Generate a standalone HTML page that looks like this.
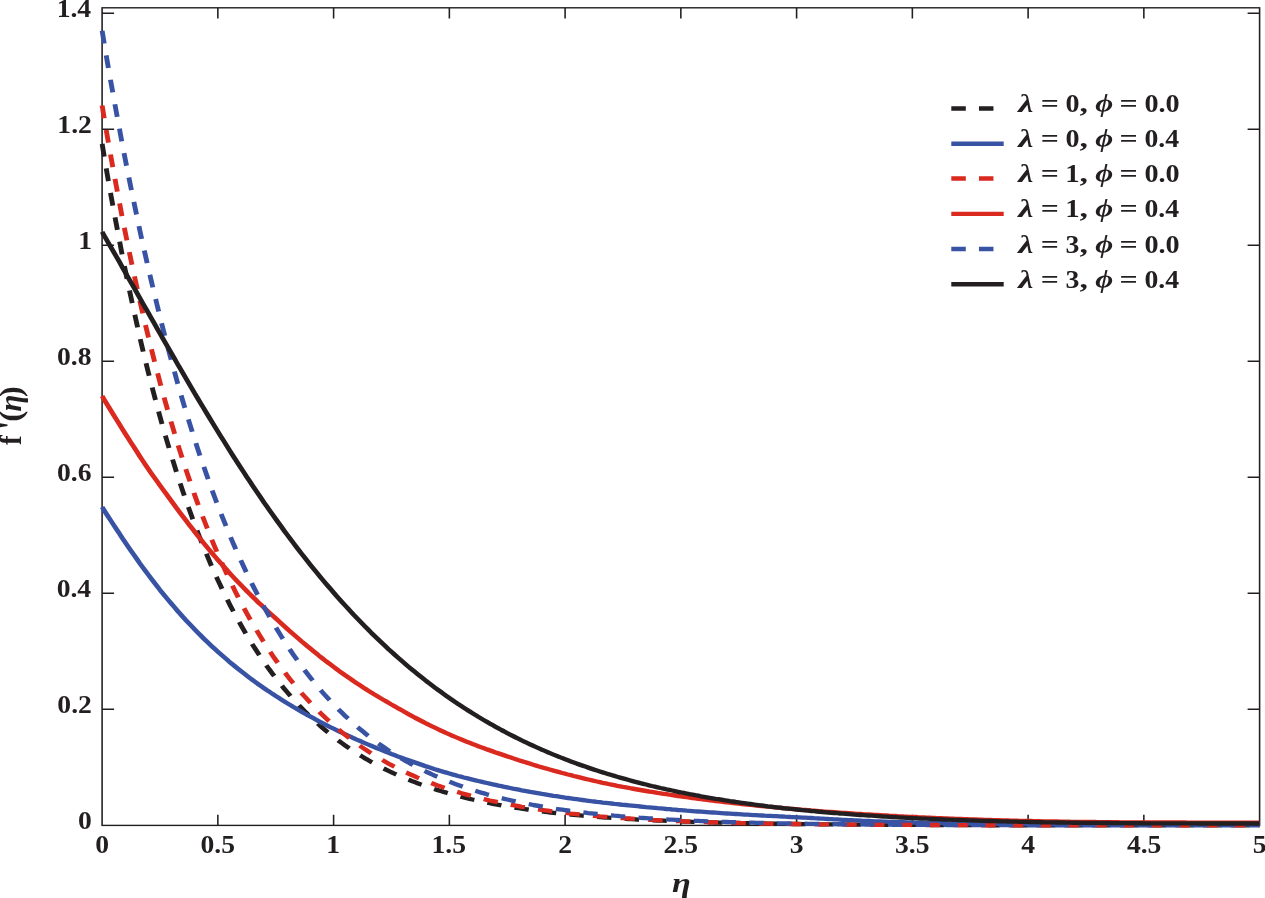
<!DOCTYPE html>
<html lang="en"><head><meta charset="utf-8"><title>f'(η) versus η</title>
<style>
html,body{margin:0;padding:0;background:#fff;}
body{width:1265px;height:898px;overflow:hidden;}
svg{display:block;}
text{font-family:"Liberation Serif","DejaVu Serif",serif;font-weight:bold;fill:#231f20;font-kerning:none;}
.it{font-style:italic;}
.ax{stroke:#231f20;stroke-width:1.4;fill:none;}
.cv{fill:none;stroke-width:4.35;stroke-linejoin:round;}
</style></head><body>
<svg width="1265" height="898" viewBox="0 0 1265 898">
<rect width="1265" height="898" fill="#fff"/>
<g transform="scale(1.12 1)">
<rect class="ax" x="91.16" y="7.8" width="1033.48" height="817.6"/>
<path class="ax" d="M194.51 825.4 v-10.6 M194.51 7.8 v10.6 M297.86 825.4 v-10.6 M297.86 7.8 v10.6 M401.21 825.4 v-10.6 M401.21 7.8 v10.6 M504.55 825.4 v-10.6 M504.55 7.8 v10.6 M607.90 825.4 v-10.6 M607.90 7.8 v10.6 M711.25 825.4 v-10.6 M711.25 7.8 v10.6 M814.60 825.4 v-10.6 M814.60 7.8 v10.6 M917.95 825.4 v-10.6 M917.95 7.8 v10.6 M1021.29 825.4 v-10.6 M1021.29 7.8 v10.6 M91.16 709.3 h10.7 M1124.64 709.3 h-10.7 M91.16 593.3 h10.7 M1124.64 593.3 h-10.7 M91.16 477.2 h10.7 M1124.64 477.2 h-10.7 M91.16 361.2 h10.7 M1124.64 361.2 h-10.7 M91.16 245.2 h10.7 M1124.64 245.2 h-10.7 M91.16 129.2 h10.7 M1124.64 129.2 h-10.7 M91.16 13.2 h10.7 M1124.64 13.2 h-10.7"/>
<path class="cv" stroke="#231f20" stroke-dasharray="12.85 11.92" d="M91.2 143.9 L93.7 161.1 L96.3 177.9 L98.9 194.3 L101.5 210.2 L104.1 225.7 L106.7 240.9 L109.2 255.6 L111.8 270.0 L114.4 284.0 L117.0 297.7 L119.6 311.0 L122.2 324.0 L124.7 336.6 L127.3 349.0 L129.9 361.0 L132.5 372.7 L135.1 384.1 L137.7 395.2 L140.3 406.1 L142.8 416.6 L145.4 427.0 L148.0 437.0 L150.6 446.8 L153.2 456.3 L155.8 465.6 L158.3 474.7 L160.9 483.5 L163.5 492.1 L166.1 500.5 L168.7 508.7 L171.3 516.7 L173.8 524.5 L176.4 532.0 L179.0 539.4 L181.6 546.6 L184.2 553.6 L186.8 560.5 L189.3 567.2 L191.9 573.7 L194.5 580.0 L197.1 586.2 L199.7 592.2 L202.3 598.1 L204.8 603.8 L207.4 609.4 L210.0 614.8 L212.6 620.1 L215.2 625.3 L217.8 630.3 L220.3 635.2 L222.9 640.0 L225.5 644.7 L228.1 649.2 L230.7 653.6 L233.3 658.0 L235.8 662.2 L238.4 666.3 L241.0 670.3 L243.6 674.2 L246.2 678.0 L248.8 681.7 L251.4 685.3 L253.9 688.9 L256.5 692.3 L259.1 695.6 L261.7 698.9 L264.3 702.1 L266.9 705.2 L269.4 708.2 L272.0 711.2 L274.6 714.0 L277.2 716.8 L279.8 719.6 L282.4 722.2 L284.9 724.8 L287.5 727.4 L290.1 729.8 L292.7 732.3 L295.3 734.6 L297.9 736.9 L300.4 739.1 L303.0 741.3 L305.6 743.4 L308.2 745.5 L310.8 747.5 L313.4 749.5 L315.9 751.4 L318.5 753.2 L321.1 755.1 L323.7 756.8 L326.3 758.6 L328.9 760.2 L331.4 761.9 L334.0 763.5 L336.6 765.0 L339.2 766.6 L341.8 768.1 L344.4 769.5 L346.9 770.9 L349.5 772.3 L352.1 773.6 L354.7 774.9 L357.3 776.2 L359.9 777.5 L362.4 778.7 L365.0 779.8 L367.6 781.0 L370.2 782.1 L372.8 783.2 L375.4 784.3 L378.0 785.3 L380.5 786.3 L383.1 787.3 L385.7 788.3 L388.3 789.2 L390.9 790.1 L393.5 791.0 L396.0 791.9 L398.6 792.7 L401.2 793.6 L403.8 794.4 L406.4 795.2 L409.0 795.9 L411.5 796.7 L414.1 797.4 L416.7 798.1 L419.3 798.8 L421.9 799.5 L424.5 800.1 L427.0 800.8 L429.6 801.4 L432.2 802.0 L434.8 802.6 L437.4 803.2 L440.0 803.8 L442.5 804.3 L445.1 804.8 L447.7 805.4 L450.3 805.9 L452.9 806.4 L455.5 806.9 L458.0 807.3 L460.6 807.8 L463.2 808.2 L465.8 808.7 L468.4 809.1 L471.0 809.5 L473.5 809.9 L476.1 810.3 L478.7 810.7 L481.3 811.1 L483.9 811.4 L486.5 811.8 L489.1 812.1 L491.6 812.5 L494.2 812.8 L496.8 813.1 L499.4 813.4 L502.0 813.8 L504.6 814.0 L507.1 814.3 L509.7 814.6 L512.3 814.9 L514.9 815.2 L517.5 815.4 L520.1 815.7 L522.6 815.9 L525.2 816.2 L527.8 816.4 L530.4 816.6 L533.0 816.9 L535.6 817.1 L538.1 817.3 L540.7 817.5 L543.3 817.7 L545.9 817.9 L548.5 818.1 L551.1 818.3 L553.6 818.5 L556.2 818.7 L558.8 818.8 L561.4 819.0 L564.0 819.2 L566.6 819.3 L569.1 819.5 L571.7 819.6 L574.3 819.8 L576.9 819.9 L579.5 820.1 L582.1 820.2 L584.6 820.3 L587.2 820.5 L589.8 820.6 L592.4 820.7 L595.0 820.8 L597.6 821.0 L600.2 821.1 L602.7 821.2 L605.3 821.3 L607.9 821.4 L610.5 821.5 L613.1 821.6 L615.7 821.7 L618.2 821.8 L620.8 821.9 L623.4 822.0 L626.0 822.1 L628.6 822.2 L631.2 822.2 L633.7 822.3 L636.3 822.4 L638.9 822.5 L641.5 822.6 L644.1 822.6 L646.7 822.7 L649.2 822.8 L651.8 822.8 L654.4 822.9 L657.0 823.0 L659.6 823.0 L662.2 823.1 L664.7 823.2 L667.3 823.2 L669.9 823.3 L672.5 823.3 L675.1 823.4 L677.7 823.4 L680.2 823.5 L682.8 823.5 L685.4 823.6 L688.0 823.6 L690.6 823.7 L693.2 823.7 L695.7 823.8 L698.3 823.8 L700.9 823.8 L703.5 823.9 L706.1 823.9 L708.7 824.0 L711.2 824.0 L713.8 824.0 L716.4 824.1 L719.0 824.1 L721.6 824.1 L724.2 824.2 L726.8 824.2 L729.3 824.2 L731.9 824.3 L734.5 824.3 L737.1 824.3 L739.7 824.4 L742.3 824.4 L744.8 824.4 L747.4 824.4 L750.0 824.5 L752.6 824.5 L755.2 824.5 L757.8 824.5 L760.3 824.6 L762.9 824.6 L765.5 824.6 L768.1 824.6 L770.7 824.6 L773.3 824.7 L775.8 824.7 L778.4 824.7 L781.0 824.7 L783.6 824.7 L786.2 824.7 L788.8 824.8 L791.3 824.8 L793.9 824.8 L796.5 824.8 L799.1 824.8 L801.7 824.8 L804.3 824.9 L806.8 824.9 L809.4 824.9 L812.0 824.9 L814.6 824.9 L817.2 824.9 L819.8 824.9 L822.3 824.9 L824.9 825.0 L827.5 825.0 L830.1 825.0 L832.7 825.0 L835.3 825.0 L837.9 825.0 L840.4 825.0 L843.0 825.0 L845.6 825.0 L848.2 825.1 L850.8 825.1 L853.4 825.1 L855.9 825.1 L858.5 825.1 L861.1 825.1 L863.7 825.1 L866.3 825.1 L868.9 825.1 L871.4 825.1 L874.0 825.1 L876.6 825.1 L879.2 825.1 L881.8 825.2 L884.4 825.2 L886.9 825.2 L889.5 825.2 L892.1 825.2 L894.7 825.2 L897.3 825.2 L899.9 825.2 L902.4 825.2 L905.0 825.2 L907.6 825.2 L910.2 825.2 L912.8 825.2 L915.4 825.2 L917.9 825.2 L920.5 825.2 L923.1 825.2 L925.7 825.2 L928.3 825.2 L930.9 825.3 L933.4 825.3 L936.0 825.3 L938.6 825.3 L941.2 825.3 L943.8 825.3 L946.4 825.3 L949.0 825.3 L951.5 825.3 L954.1 825.3 L956.7 825.3 L959.3 825.3 L961.9 825.3 L964.5 825.3 L967.0 825.3 L969.6 825.3 L972.2 825.3 L974.8 825.3 L977.4 825.3 L980.0 825.3 L982.5 825.3 L985.1 825.3 L987.7 825.3 L990.3 825.3 L992.9 825.3 L995.5 825.3 L998.0 825.3 L1000.6 825.3 L1003.2 825.3 L1005.8 825.3 L1008.4 825.3 L1011.0 825.3 L1013.5 825.3 L1016.1 825.3 L1018.7 825.3 L1021.3 825.3 L1023.9 825.3 L1026.5 825.3 L1029.0 825.3 L1031.6 825.3 L1034.2 825.3 L1036.8 825.3 L1039.4 825.4 L1042.0 825.4 L1044.5 825.4 L1047.1 825.4 L1049.7 825.4 L1052.3 825.4 L1054.9 825.4 L1057.5 825.4 L1060.1 825.4 L1062.6 825.4 L1065.2 825.4 L1067.8 825.4 L1070.4 825.4 L1073.0 825.4 L1075.6 825.4 L1078.1 825.4 L1080.7 825.4 L1083.3 825.4 L1085.9 825.4 L1088.5 825.4 L1091.1 825.4 L1093.6 825.4 L1096.2 825.4 L1098.8 825.4 L1101.4 825.4 L1104.0 825.4 L1106.6 825.4 L1109.1 825.4 L1111.7 825.4 L1114.3 825.4 L1116.9 825.4 L1119.5 825.4 L1122.1 825.4 L1124.6 825.4"/>
<path class="cv" stroke="#3953a4" d="M91.2 507.0 L93.7 511.6 L96.3 516.1 L98.9 520.5 L101.5 525.0 L104.1 529.4 L106.7 533.7 L109.2 538.1 L111.8 542.4 L114.4 546.6 L117.0 550.8 L119.6 554.9 L122.2 559.0 L124.7 563.1 L127.3 567.1 L129.9 571.0 L132.5 574.9 L135.1 578.7 L137.7 582.5 L140.3 586.2 L142.8 589.9 L145.4 593.5 L148.0 597.0 L150.6 600.5 L153.2 603.9 L155.8 607.3 L158.3 610.6 L160.9 613.9 L163.5 617.1 L166.1 620.3 L168.7 623.4 L171.3 626.4 L173.8 629.4 L176.4 632.4 L179.0 635.3 L181.6 638.2 L184.2 641.0 L186.8 643.7 L189.3 646.4 L191.9 649.1 L194.5 651.7 L197.1 654.3 L199.7 656.8 L202.3 659.3 L204.8 661.8 L207.4 664.2 L210.0 666.5 L212.6 668.9 L215.2 671.2 L217.8 673.4 L220.3 675.6 L222.9 677.8 L225.5 680.0 L228.1 682.1 L230.7 684.2 L233.3 686.2 L235.8 688.2 L238.4 690.2 L241.0 692.1 L243.6 694.1 L246.2 696.0 L248.8 697.8 L251.4 699.7 L253.9 701.5 L256.5 703.3 L259.1 705.0 L261.7 706.8 L264.3 708.5 L266.9 710.2 L269.4 711.8 L272.0 713.5 L274.6 715.1 L277.2 716.7 L279.8 718.2 L282.4 719.8 L284.9 721.3 L287.5 722.8 L290.1 724.3 L292.7 725.8 L295.3 727.3 L297.9 728.7 L300.4 730.1 L303.0 731.5 L305.6 732.9 L308.2 734.3 L310.8 735.6 L313.4 736.9 L315.9 738.3 L318.5 739.6 L321.1 740.8 L323.7 742.1 L326.3 743.4 L328.9 744.6 L331.4 745.8 L334.0 747.0 L336.6 748.2 L339.2 749.4 L341.8 750.6 L344.4 751.7 L346.9 752.8 L349.5 754.0 L352.1 755.1 L354.7 756.2 L357.3 757.2 L359.9 758.3 L362.4 759.4 L365.0 760.4 L367.6 761.4 L370.2 762.4 L372.8 763.4 L375.4 764.4 L378.0 765.4 L380.5 766.4 L383.1 767.3 L385.7 768.2 L388.3 769.2 L390.9 770.1 L393.5 771.0 L396.0 771.9 L398.6 772.7 L401.2 773.5 L403.8 774.4 L406.4 775.2 L409.0 776.0 L411.5 776.7 L414.1 777.5 L416.7 778.2 L419.3 778.9 L421.9 779.6 L424.5 780.3 L427.0 781.0 L429.6 781.7 L432.2 782.4 L434.8 783.0 L437.4 783.7 L440.0 784.3 L442.5 784.9 L445.1 785.6 L447.7 786.2 L450.3 786.8 L452.9 787.4 L455.5 788.0 L458.0 788.6 L460.6 789.1 L463.2 789.7 L465.8 790.3 L468.4 790.8 L471.0 791.3 L473.5 791.9 L476.1 792.4 L478.7 792.9 L481.3 793.4 L483.9 793.9 L486.5 794.3 L489.1 794.8 L491.6 795.3 L494.2 795.8 L496.8 796.2 L499.4 796.7 L502.0 797.1 L504.6 797.6 L507.1 798.0 L509.7 798.4 L512.3 798.8 L514.9 799.2 L517.5 799.6 L520.1 800.0 L522.6 800.4 L525.2 800.8 L527.8 801.2 L530.4 801.5 L533.0 801.9 L535.6 802.2 L538.1 802.6 L540.7 802.9 L543.3 803.2 L545.9 803.5 L548.5 803.9 L551.1 804.2 L553.6 804.5 L556.2 804.8 L558.8 805.0 L561.4 805.3 L564.0 805.6 L566.6 805.9 L569.1 806.2 L571.7 806.5 L574.3 806.8 L576.9 807.1 L579.5 807.3 L582.1 807.6 L584.6 807.9 L587.2 808.2 L589.8 808.4 L592.4 808.7 L595.0 809.0 L597.6 809.2 L600.2 809.5 L602.7 809.7 L605.3 810.0 L607.9 810.2 L610.5 810.4 L613.1 810.7 L615.7 810.9 L618.2 811.1 L620.8 811.3 L623.4 811.5 L626.0 811.7 L628.6 811.9 L631.2 812.1 L633.7 812.3 L636.3 812.5 L638.9 812.7 L641.5 812.9 L644.1 813.1 L646.7 813.3 L649.2 813.5 L651.8 813.7 L654.4 813.9 L657.0 814.0 L659.6 814.2 L662.2 814.4 L664.7 814.6 L667.3 814.7 L669.9 814.9 L672.5 815.1 L675.1 815.2 L677.7 815.4 L680.2 815.5 L682.8 815.7 L685.4 815.8 L688.0 815.9 L690.6 816.1 L693.2 816.2 L695.7 816.4 L698.3 816.5 L700.9 816.7 L703.5 816.8 L706.1 817.0 L708.7 817.1 L711.2 817.3 L713.8 817.4 L716.4 817.6 L719.0 817.7 L721.6 817.9 L724.2 818.0 L726.8 818.2 L729.3 818.3 L731.9 818.5 L734.5 818.6 L737.1 818.8 L739.7 819.0 L742.3 819.1 L744.8 819.3 L747.4 819.4 L750.0 819.6 L752.6 819.8 L755.2 819.9 L757.8 820.1 L760.3 820.2 L762.9 820.4 L765.5 820.5 L768.1 820.6 L770.7 820.8 L773.3 820.9 L775.8 821.0 L778.4 821.1 L781.0 821.3 L783.6 821.4 L786.2 821.5 L788.8 821.6 L791.3 821.7 L793.9 821.8 L796.5 821.9 L799.1 822.0 L801.7 822.1 L804.3 822.2 L806.8 822.2 L809.4 822.3 L812.0 822.4 L814.6 822.5 L817.2 822.6 L819.8 822.6 L822.3 822.7 L824.9 822.8 L827.5 822.8 L830.1 822.9 L832.7 823.0 L835.3 823.0 L837.9 823.1 L840.4 823.1 L843.0 823.2 L845.6 823.2 L848.2 823.3 L850.8 823.3 L853.4 823.4 L855.9 823.4 L858.5 823.5 L861.1 823.5 L863.7 823.6 L866.3 823.6 L868.9 823.6 L871.4 823.7 L874.0 823.7 L876.6 823.7 L879.2 823.8 L881.8 823.8 L884.4 823.8 L886.9 823.9 L889.5 823.9 L892.1 823.9 L894.7 823.9 L897.3 824.0 L899.9 824.0 L902.4 824.0 L905.0 824.0 L907.6 824.1 L910.2 824.1 L912.8 824.1 L915.4 824.1 L917.9 824.1 L920.5 824.1 L923.1 824.2 L925.7 824.2 L928.3 824.2 L930.9 824.2 L933.4 824.2 L936.0 824.2 L938.6 824.2 L941.2 824.3 L943.8 824.3 L946.4 824.3 L949.0 824.3 L951.5 824.3 L954.1 824.3 L956.7 824.3 L959.3 824.3 L961.9 824.3 L964.5 824.3 L967.0 824.3 L969.6 824.4 L972.2 824.4 L974.8 824.4 L977.4 824.4 L980.0 824.4 L982.5 824.4 L985.1 824.4 L987.7 824.4 L990.3 824.4 L992.9 824.4 L995.5 824.4 L998.0 824.4 L1000.6 824.4 L1003.2 824.4 L1005.8 824.4 L1008.4 824.4 L1011.0 824.4 L1013.5 824.4 L1016.1 824.4 L1018.7 824.4 L1021.3 824.4 L1023.9 824.4 L1026.5 824.4 L1029.0 824.4 L1031.6 824.4 L1034.2 824.4 L1036.8 824.4 L1039.4 824.4 L1042.0 824.4 L1044.5 824.4 L1047.1 824.4 L1049.7 824.5 L1052.3 824.5 L1054.9 824.5 L1057.5 824.5 L1060.1 824.5 L1062.6 824.5 L1065.2 824.5 L1067.8 824.5 L1070.4 824.5 L1073.0 824.5 L1075.6 824.5 L1078.1 824.5 L1080.7 824.5 L1083.3 824.5 L1085.9 824.5 L1088.5 824.5 L1091.1 824.5 L1093.6 824.5 L1096.2 824.5 L1098.8 824.5 L1101.4 824.5 L1104.0 824.5 L1106.6 824.5 L1109.1 824.5 L1111.7 824.5 L1114.3 824.5 L1116.9 824.5 L1119.5 824.5 L1122.1 824.5 L1124.6 824.5"/>
<path class="cv" stroke="#da291f" stroke-dasharray="12.85 11.92" d="M91.2 105.5 L93.7 122.7 L96.3 139.5 L98.9 155.9 L101.5 171.9 L104.1 187.5 L106.7 202.8 L109.2 217.7 L111.8 232.2 L114.4 246.5 L117.0 260.3 L119.6 273.9 L122.2 287.1 L124.7 300.0 L127.3 312.6 L129.9 325.0 L132.5 337.0 L135.1 348.7 L137.7 360.2 L140.3 371.4 L142.8 382.3 L145.4 393.0 L148.0 403.4 L150.6 413.6 L153.2 423.5 L155.8 433.2 L158.3 442.7 L160.9 451.9 L163.5 461.0 L166.1 469.8 L168.7 478.4 L171.3 486.8 L173.8 495.0 L176.4 503.0 L179.0 510.8 L181.6 518.4 L184.2 525.9 L186.8 533.1 L189.3 540.2 L191.9 547.2 L194.5 553.9 L197.1 560.5 L199.7 567.0 L202.3 573.3 L204.8 579.4 L207.4 585.4 L210.0 591.3 L212.6 597.0 L215.2 602.6 L217.8 608.0 L220.3 613.3 L222.9 618.5 L225.5 623.6 L228.1 628.5 L230.7 633.3 L233.3 638.0 L235.8 642.6 L238.4 647.1 L241.0 651.5 L243.6 655.8 L246.2 660.0 L248.8 664.0 L251.4 668.0 L253.9 671.9 L256.5 675.7 L259.1 679.4 L261.7 683.0 L264.3 686.5 L266.9 689.9 L269.4 693.3 L272.0 696.5 L274.6 699.7 L277.2 702.8 L279.8 705.9 L282.4 708.8 L284.9 711.7 L287.5 714.6 L290.1 717.3 L292.7 720.0 L295.3 722.6 L297.9 725.2 L300.4 727.7 L303.0 730.1 L305.6 732.5 L308.2 734.8 L310.8 737.1 L313.4 739.3 L315.9 741.4 L318.5 743.5 L321.1 745.6 L323.7 747.6 L326.3 749.6 L328.9 751.5 L331.4 753.3 L334.0 755.1 L336.6 756.9 L339.2 758.6 L341.8 760.3 L344.4 762.0 L346.9 763.6 L349.5 765.1 L352.1 766.6 L354.7 768.1 L357.3 769.6 L359.9 771.0 L362.4 772.4 L365.0 773.7 L367.6 775.0 L370.2 776.3 L372.8 777.6 L375.4 778.8 L378.0 780.0 L380.5 781.1 L383.1 782.3 L385.7 783.4 L388.3 784.4 L390.9 785.5 L393.5 786.5 L396.0 787.5 L398.6 788.5 L401.2 789.4 L403.8 790.3 L406.4 791.2 L409.0 792.1 L411.5 793.0 L414.1 793.8 L416.7 794.6 L419.3 795.4 L421.9 796.2 L424.5 797.0 L427.0 797.7 L429.6 798.4 L432.2 799.1 L434.8 799.8 L437.4 800.5 L440.0 801.1 L442.5 801.7 L445.1 802.3 L447.7 802.9 L450.3 803.5 L452.9 804.1 L455.5 804.7 L458.0 805.2 L460.6 805.7 L463.2 806.2 L465.8 806.8 L468.4 807.2 L471.0 807.7 L473.5 808.2 L476.1 808.6 L478.7 809.1 L481.3 809.5 L483.9 809.9 L486.5 810.3 L489.1 810.7 L491.6 811.1 L494.2 811.5 L496.8 811.9 L499.4 812.2 L502.0 812.6 L504.6 812.9 L507.1 813.2 L509.7 813.6 L512.3 813.9 L514.9 814.2 L517.5 814.5 L520.1 814.8 L522.6 815.1 L525.2 815.3 L527.8 815.6 L530.4 815.9 L533.0 816.1 L535.6 816.4 L538.1 816.6 L540.7 816.9 L543.3 817.1 L545.9 817.3 L548.5 817.5 L551.1 817.7 L553.6 818.0 L556.2 818.2 L558.8 818.4 L561.4 818.5 L564.0 818.7 L566.6 818.9 L569.1 819.1 L571.7 819.3 L574.3 819.4 L576.9 819.6 L579.5 819.8 L582.1 819.9 L584.6 820.1 L587.2 820.2 L589.8 820.3 L592.4 820.5 L595.0 820.6 L597.6 820.8 L600.2 820.9 L602.7 821.0 L605.3 821.1 L607.9 821.2 L610.5 821.4 L613.1 821.5 L615.7 821.6 L618.2 821.7 L620.8 821.8 L623.4 821.9 L626.0 822.0 L628.6 822.1 L631.2 822.2 L633.7 822.3 L636.3 822.3 L638.9 822.4 L641.5 822.5 L644.1 822.6 L646.7 822.7 L649.2 822.7 L651.8 822.8 L654.4 822.9 L657.0 823.0 L659.6 823.0 L662.2 823.1 L664.7 823.2 L667.3 823.2 L669.9 823.3 L672.5 823.3 L675.1 823.4 L677.7 823.5 L680.2 823.5 L682.8 823.6 L685.4 823.6 L688.0 823.7 L690.6 823.7 L693.2 823.8 L695.7 823.8 L698.3 823.8 L700.9 823.9 L703.5 823.9 L706.1 824.0 L708.7 824.0 L711.2 824.0 L713.8 824.1 L716.4 824.1 L719.0 824.2 L721.6 824.2 L724.2 824.2 L726.8 824.3 L729.3 824.3 L731.9 824.3 L734.5 824.3 L737.1 824.4 L739.7 824.4 L742.3 824.4 L744.8 824.5 L747.4 824.5 L750.0 824.5 L752.6 824.5 L755.2 824.6 L757.8 824.6 L760.3 824.6 L762.9 824.6 L765.5 824.6 L768.1 824.7 L770.7 824.7 L773.3 824.7 L775.8 824.7 L778.4 824.7 L781.0 824.8 L783.6 824.8 L786.2 824.8 L788.8 824.8 L791.3 824.8 L793.9 824.8 L796.5 824.9 L799.1 824.9 L801.7 824.9 L804.3 824.9 L806.8 824.9 L809.4 824.9 L812.0 824.9 L814.6 825.0 L817.2 825.0 L819.8 825.0 L822.3 825.0 L824.9 825.0 L827.5 825.0 L830.1 825.0 L832.7 825.0 L835.3 825.0 L837.9 825.1 L840.4 825.1 L843.0 825.1 L845.6 825.1 L848.2 825.1 L850.8 825.1 L853.4 825.1 L855.9 825.1 L858.5 825.1 L861.1 825.1 L863.7 825.1 L866.3 825.1 L868.9 825.2 L871.4 825.2 L874.0 825.2 L876.6 825.2 L879.2 825.2 L881.8 825.2 L884.4 825.2 L886.9 825.2 L889.5 825.2 L892.1 825.2 L894.7 825.2 L897.3 825.2 L899.9 825.2 L902.4 825.2 L905.0 825.2 L907.6 825.2 L910.2 825.2 L912.8 825.2 L915.4 825.3 L917.9 825.3 L920.5 825.3 L923.1 825.3 L925.7 825.3 L928.3 825.3 L930.9 825.3 L933.4 825.3 L936.0 825.3 L938.6 825.3 L941.2 825.3 L943.8 825.3 L946.4 825.3 L949.0 825.3 L951.5 825.3 L954.1 825.3 L956.7 825.3 L959.3 825.3 L961.9 825.3 L964.5 825.3 L967.0 825.3 L969.6 825.3 L972.2 825.3 L974.8 825.3 L977.4 825.3 L980.0 825.3 L982.5 825.3 L985.1 825.3 L987.7 825.3 L990.3 825.3 L992.9 825.3 L995.5 825.3 L998.0 825.3 L1000.6 825.3 L1003.2 825.3 L1005.8 825.3 L1008.4 825.3 L1011.0 825.3 L1013.5 825.3 L1016.1 825.4 L1018.7 825.4 L1021.3 825.4 L1023.9 825.4 L1026.5 825.4 L1029.0 825.4 L1031.6 825.4 L1034.2 825.4 L1036.8 825.4 L1039.4 825.4 L1042.0 825.4 L1044.5 825.4 L1047.1 825.4 L1049.7 825.4 L1052.3 825.4 L1054.9 825.4 L1057.5 825.4 L1060.1 825.4 L1062.6 825.4 L1065.2 825.4 L1067.8 825.4 L1070.4 825.4 L1073.0 825.4 L1075.6 825.4 L1078.1 825.4 L1080.7 825.4 L1083.3 825.4 L1085.9 825.4 L1088.5 825.4 L1091.1 825.4 L1093.6 825.4 L1096.2 825.4 L1098.8 825.4 L1101.4 825.4 L1104.0 825.4 L1106.6 825.4 L1109.1 825.4 L1111.7 825.4 L1114.3 825.4 L1116.9 825.4 L1119.5 825.4 L1122.1 825.4 L1124.6 825.4"/>
<path class="cv" stroke="#da291f" d="M91.2 396.1 L93.7 400.9 L96.3 405.6 L98.9 410.4 L101.5 415.1 L104.1 419.8 L106.7 424.4 L109.2 429.0 L111.8 433.6 L114.4 438.1 L117.0 442.7 L119.6 447.2 L122.2 451.7 L124.7 456.1 L127.3 460.5 L129.9 464.8 L132.5 469.1 L135.1 473.3 L137.7 477.4 L140.3 481.4 L142.8 485.4 L145.4 489.4 L148.0 493.3 L150.6 497.3 L153.2 501.2 L155.8 505.2 L158.3 509.1 L160.9 512.9 L163.5 516.8 L166.1 520.6 L168.7 524.4 L171.3 528.1 L173.8 531.8 L176.4 535.5 L179.0 539.1 L181.6 542.7 L184.2 546.2 L186.8 549.7 L189.3 553.1 L191.9 556.5 L194.5 559.8 L197.1 563.1 L199.7 566.4 L202.3 569.7 L204.8 572.8 L207.4 576.0 L210.0 579.1 L212.6 582.1 L215.2 585.1 L217.8 588.1 L220.3 591.0 L222.9 593.9 L225.5 596.8 L228.1 599.6 L230.7 602.4 L233.3 605.1 L235.8 607.8 L238.4 610.5 L241.0 613.2 L243.6 615.8 L246.2 618.4 L248.8 621.0 L251.4 623.7 L253.9 626.3 L256.5 628.9 L259.1 631.5 L261.7 634.0 L264.3 636.5 L266.9 639.0 L269.4 641.5 L272.0 643.9 L274.6 646.3 L277.2 648.7 L279.8 651.1 L282.4 653.4 L284.9 655.8 L287.5 658.0 L290.1 660.3 L292.7 662.5 L295.3 664.7 L297.9 666.9 L300.4 669.0 L303.0 671.2 L305.6 673.2 L308.2 675.3 L310.8 677.3 L313.4 679.3 L315.9 681.3 L318.5 683.2 L321.1 685.1 L323.7 687.0 L326.3 688.9 L328.9 690.7 L331.4 692.5 L334.0 694.3 L336.6 696.0 L339.2 697.8 L341.8 699.5 L344.4 701.1 L346.9 702.8 L349.5 704.5 L352.1 706.1 L354.7 707.8 L357.3 709.4 L359.9 711.0 L362.4 712.7 L365.0 714.3 L367.6 715.9 L370.2 717.5 L372.8 719.0 L375.4 720.5 L378.0 722.0 L380.5 723.5 L383.1 724.9 L385.7 726.3 L388.3 727.7 L390.9 729.1 L393.5 730.5 L396.0 731.8 L398.6 733.1 L401.2 734.4 L403.8 735.7 L406.4 736.9 L409.0 738.1 L411.5 739.3 L414.1 740.5 L416.7 741.7 L419.3 742.8 L421.9 744.0 L424.5 745.1 L427.0 746.2 L429.6 747.3 L432.2 748.3 L434.8 749.4 L437.4 750.4 L440.0 751.4 L442.5 752.4 L445.1 753.4 L447.7 754.4 L450.3 755.4 L452.9 756.4 L455.5 757.3 L458.0 758.3 L460.6 759.2 L463.2 760.2 L465.8 761.1 L468.4 762.0 L471.0 762.9 L473.5 763.8 L476.1 764.7 L478.7 765.6 L481.3 766.5 L483.9 767.3 L486.5 768.2 L489.1 769.0 L491.6 769.8 L494.2 770.6 L496.8 771.4 L499.4 772.2 L502.0 773.0 L504.6 773.7 L507.1 774.5 L509.7 775.2 L512.3 776.0 L514.9 776.7 L517.5 777.4 L520.1 778.1 L522.6 778.8 L525.2 779.5 L527.8 780.2 L530.4 780.8 L533.0 781.5 L535.6 782.1 L538.1 782.8 L540.7 783.4 L543.3 784.0 L545.9 784.6 L548.5 785.2 L551.1 785.8 L553.6 786.3 L556.2 786.9 L558.8 787.4 L561.4 787.9 L564.0 788.5 L566.6 789.0 L569.1 789.5 L571.7 790.0 L574.3 790.5 L576.9 791.0 L579.5 791.5 L582.1 791.9 L584.6 792.4 L587.2 792.9 L589.8 793.3 L592.4 793.8 L595.0 794.2 L597.6 794.7 L600.2 795.1 L602.7 795.5 L605.3 796.0 L607.9 796.4 L610.5 796.8 L613.1 797.2 L615.7 797.6 L618.2 798.0 L620.8 798.4 L623.4 798.8 L626.0 799.1 L628.6 799.5 L631.2 799.9 L633.7 800.3 L636.3 800.6 L638.9 801.0 L641.5 801.3 L644.1 801.7 L646.7 802.0 L649.2 802.4 L651.8 802.7 L654.4 803.0 L657.0 803.3 L659.6 803.7 L662.2 804.0 L664.7 804.3 L667.3 804.6 L669.9 804.9 L672.5 805.2 L675.1 805.5 L677.7 805.8 L680.2 806.1 L682.8 806.4 L685.4 806.7 L688.0 806.9 L690.6 807.2 L693.2 807.5 L695.7 807.7 L698.3 808.0 L700.9 808.3 L703.5 808.5 L706.1 808.8 L708.7 809.0 L711.2 809.3 L713.8 809.5 L716.4 809.8 L719.0 810.0 L721.6 810.2 L724.2 810.5 L726.8 810.7 L729.3 810.9 L731.9 811.1 L734.5 811.4 L737.1 811.6 L739.7 811.8 L742.3 812.0 L744.8 812.2 L747.4 812.4 L750.0 812.6 L752.6 812.8 L755.2 813.0 L757.8 813.2 L760.3 813.4 L762.9 813.6 L765.5 813.8 L768.1 814.0 L770.7 814.2 L773.3 814.3 L775.8 814.5 L778.4 814.7 L781.0 814.9 L783.6 815.0 L786.2 815.2 L788.8 815.4 L791.3 815.5 L793.9 815.7 L796.5 815.8 L799.1 816.0 L801.7 816.2 L804.3 816.3 L806.8 816.5 L809.4 816.6 L812.0 816.8 L814.6 816.9 L817.2 817.0 L819.8 817.2 L822.3 817.3 L824.9 817.4 L827.5 817.6 L830.1 817.7 L832.7 817.8 L835.3 818.0 L837.9 818.1 L840.4 818.2 L843.0 818.3 L845.6 818.4 L848.2 818.6 L850.8 818.7 L853.4 818.8 L855.9 818.9 L858.5 819.0 L861.1 819.1 L863.7 819.2 L866.3 819.3 L868.9 819.4 L871.4 819.5 L874.0 819.6 L876.6 819.7 L879.2 819.8 L881.8 819.9 L884.4 820.0 L886.9 820.1 L889.5 820.2 L892.1 820.2 L894.7 820.3 L897.3 820.4 L899.9 820.5 L902.4 820.6 L905.0 820.6 L907.6 820.7 L910.2 820.8 L912.8 820.8 L915.4 820.9 L917.9 821.0 L920.5 821.0 L923.1 821.1 L925.7 821.2 L928.3 821.2 L930.9 821.3 L933.4 821.3 L936.0 821.4 L938.6 821.4 L941.2 821.5 L943.8 821.5 L946.4 821.6 L949.0 821.6 L951.5 821.7 L954.1 821.7 L956.7 821.8 L959.3 821.8 L961.9 821.8 L964.5 821.9 L967.0 821.9 L969.6 821.9 L972.2 822.0 L974.8 822.0 L977.4 822.0 L980.0 822.1 L982.5 822.1 L985.1 822.1 L987.7 822.1 L990.3 822.2 L992.9 822.2 L995.5 822.2 L998.0 822.2 L1000.6 822.3 L1003.2 822.3 L1005.8 822.3 L1008.4 822.3 L1011.0 822.3 L1013.5 822.3 L1016.1 822.4 L1018.7 822.4 L1021.3 822.4 L1023.9 822.4 L1026.5 822.4 L1029.0 822.4 L1031.6 822.4 L1034.2 822.5 L1036.8 822.5 L1039.4 822.5 L1042.0 822.5 L1044.5 822.5 L1047.1 822.5 L1049.7 822.5 L1052.3 822.5 L1054.9 822.5 L1057.5 822.5 L1060.1 822.6 L1062.6 822.6 L1065.2 822.6 L1067.8 822.6 L1070.4 822.6 L1073.0 822.6 L1075.6 822.6 L1078.1 822.6 L1080.7 822.6 L1083.3 822.6 L1085.9 822.6 L1088.5 822.6 L1091.1 822.6 L1093.6 822.6 L1096.2 822.6 L1098.8 822.6 L1101.4 822.6 L1104.0 822.7 L1106.6 822.7 L1109.1 822.7 L1111.7 822.7 L1114.3 822.7 L1116.9 822.7 L1119.5 822.7 L1122.1 822.7 L1124.6 822.7"/>
<path class="cv" stroke="#3953a4" stroke-dasharray="12.85 11.92" d="M91.2 30.8 L93.7 48.0 L96.3 64.9 L98.9 81.4 L101.5 97.6 L104.1 113.5 L106.7 129.0 L109.2 144.3 L111.8 159.2 L114.4 173.9 L117.0 188.2 L119.6 202.3 L122.2 216.1 L124.7 229.6 L127.3 242.9 L129.9 255.8 L132.5 268.5 L135.1 281.0 L137.7 293.2 L140.3 305.1 L142.8 316.8 L145.4 328.3 L148.0 339.5 L150.6 350.5 L153.2 361.2 L155.8 371.8 L158.3 382.1 L160.9 392.2 L163.5 402.1 L166.1 411.7 L168.7 421.2 L171.3 430.5 L173.8 439.5 L176.4 448.4 L179.0 457.1 L181.6 465.6 L184.2 473.9 L186.8 482.1 L189.3 490.1 L191.9 497.9 L194.5 505.5 L197.1 513.0 L199.7 520.3 L202.3 527.4 L204.8 534.4 L207.4 541.2 L210.0 547.9 L212.6 554.4 L215.2 560.8 L217.8 567.1 L220.3 573.2 L222.9 579.2 L225.5 585.0 L228.1 590.7 L230.7 596.3 L233.3 601.8 L235.8 607.1 L238.4 612.3 L241.0 617.4 L243.6 622.4 L246.2 627.3 L248.8 632.0 L251.4 636.7 L253.9 641.2 L256.5 645.7 L259.1 650.0 L261.7 654.3 L264.3 658.4 L266.9 662.5 L269.4 666.4 L272.0 670.3 L274.6 674.1 L277.2 677.8 L279.8 681.4 L282.4 684.9 L284.9 688.3 L287.5 691.7 L290.1 695.0 L292.7 698.2 L295.3 701.3 L297.9 704.4 L300.4 707.3 L303.0 710.3 L305.6 713.1 L308.2 715.9 L310.8 718.6 L313.4 721.2 L315.9 723.8 L318.5 726.4 L321.1 728.8 L323.7 731.2 L326.3 733.6 L328.9 735.9 L331.4 738.1 L334.0 740.3 L336.6 742.4 L339.2 744.5 L341.8 746.5 L344.4 748.5 L346.9 750.4 L349.5 752.3 L352.1 754.2 L354.7 756.0 L357.3 757.7 L359.9 759.4 L362.4 761.1 L365.0 762.7 L367.6 764.3 L370.2 765.9 L372.8 767.4 L375.4 768.8 L378.0 770.3 L380.5 771.7 L383.1 773.0 L385.7 774.4 L388.3 775.7 L390.9 776.9 L393.5 778.2 L396.0 779.4 L398.6 780.6 L401.2 781.7 L403.8 782.8 L406.4 783.9 L409.0 785.0 L411.5 786.0 L414.1 787.0 L416.7 788.0 L419.3 789.0 L421.9 789.9 L424.5 790.8 L427.0 791.7 L429.6 792.6 L432.2 793.4 L434.8 794.3 L437.4 795.1 L440.0 795.9 L442.5 796.6 L445.1 797.4 L447.7 798.1 L450.3 798.8 L452.9 799.5 L455.5 800.2 L458.0 800.8 L460.6 801.5 L463.2 802.1 L465.8 802.7 L468.4 803.3 L471.0 803.9 L473.5 804.4 L476.1 805.0 L478.7 805.5 L481.3 806.0 L483.9 806.5 L486.5 807.0 L489.1 807.5 L491.6 808.0 L494.2 808.4 L496.8 808.9 L499.4 809.3 L502.0 809.7 L504.6 810.1 L507.1 810.5 L509.7 810.9 L512.3 811.3 L514.9 811.7 L517.5 812.0 L520.1 812.4 L522.6 812.7 L525.2 813.1 L527.8 813.4 L530.4 813.7 L533.0 814.0 L535.6 814.3 L538.1 814.6 L540.7 814.9 L543.3 815.2 L545.9 815.4 L548.5 815.7 L551.1 815.9 L553.6 816.2 L556.2 816.4 L558.8 816.7 L561.4 816.9 L564.0 817.1 L566.6 817.4 L569.1 817.6 L571.7 817.8 L574.3 818.0 L576.9 818.2 L579.5 818.4 L582.1 818.5 L584.6 818.7 L587.2 818.9 L589.8 819.1 L592.4 819.2 L595.0 819.4 L597.6 819.6 L600.2 819.7 L602.7 819.9 L605.3 820.0 L607.9 820.2 L610.5 820.3 L613.1 820.4 L615.7 820.6 L618.2 820.7 L620.8 820.8 L623.4 820.9 L626.0 821.1 L628.6 821.2 L631.2 821.3 L633.7 821.4 L636.3 821.5 L638.9 821.6 L641.5 821.7 L644.1 821.8 L646.7 821.9 L649.2 822.0 L651.8 822.1 L654.4 822.2 L657.0 822.2 L659.6 822.3 L662.2 822.4 L664.7 822.5 L667.3 822.6 L669.9 822.6 L672.5 822.7 L675.1 822.8 L677.7 822.9 L680.2 822.9 L682.8 823.0 L685.4 823.1 L688.0 823.1 L690.6 823.2 L693.2 823.2 L695.7 823.3 L698.3 823.3 L700.9 823.4 L703.5 823.5 L706.1 823.5 L708.7 823.6 L711.2 823.6 L713.8 823.7 L716.4 823.7 L719.0 823.7 L721.6 823.8 L724.2 823.8 L726.8 823.9 L729.3 823.9 L731.9 824.0 L734.5 824.0 L737.1 824.0 L739.7 824.1 L742.3 824.1 L744.8 824.1 L747.4 824.2 L750.0 824.2 L752.6 824.2 L755.2 824.3 L757.8 824.3 L760.3 824.3 L762.9 824.3 L765.5 824.4 L768.1 824.4 L770.7 824.4 L773.3 824.5 L775.8 824.5 L778.4 824.5 L781.0 824.5 L783.6 824.6 L786.2 824.6 L788.8 824.6 L791.3 824.6 L793.9 824.6 L796.5 824.7 L799.1 824.7 L801.7 824.7 L804.3 824.7 L806.8 824.7 L809.4 824.8 L812.0 824.8 L814.6 824.8 L817.2 824.8 L819.8 824.8 L822.3 824.8 L824.9 824.8 L827.5 824.9 L830.1 824.9 L832.7 824.9 L835.3 824.9 L837.9 824.9 L840.4 824.9 L843.0 824.9 L845.6 825.0 L848.2 825.0 L850.8 825.0 L853.4 825.0 L855.9 825.0 L858.5 825.0 L861.1 825.0 L863.7 825.0 L866.3 825.0 L868.9 825.1 L871.4 825.1 L874.0 825.1 L876.6 825.1 L879.2 825.1 L881.8 825.1 L884.4 825.1 L886.9 825.1 L889.5 825.1 L892.1 825.1 L894.7 825.1 L897.3 825.1 L899.9 825.1 L902.4 825.2 L905.0 825.2 L907.6 825.2 L910.2 825.2 L912.8 825.2 L915.4 825.2 L917.9 825.2 L920.5 825.2 L923.1 825.2 L925.7 825.2 L928.3 825.2 L930.9 825.2 L933.4 825.2 L936.0 825.2 L938.6 825.2 L941.2 825.2 L943.8 825.2 L946.4 825.2 L949.0 825.2 L951.5 825.3 L954.1 825.3 L956.7 825.3 L959.3 825.3 L961.9 825.3 L964.5 825.3 L967.0 825.3 L969.6 825.3 L972.2 825.3 L974.8 825.3 L977.4 825.3 L980.0 825.3 L982.5 825.3 L985.1 825.3 L987.7 825.3 L990.3 825.3 L992.9 825.3 L995.5 825.3 L998.0 825.3 L1000.6 825.3 L1003.2 825.3 L1005.8 825.3 L1008.4 825.3 L1011.0 825.3 L1013.5 825.3 L1016.1 825.3 L1018.7 825.3 L1021.3 825.3 L1023.9 825.3 L1026.5 825.3 L1029.0 825.3 L1031.6 825.3 L1034.2 825.3 L1036.8 825.3 L1039.4 825.3 L1042.0 825.3 L1044.5 825.3 L1047.1 825.3 L1049.7 825.3 L1052.3 825.3 L1054.9 825.3 L1057.5 825.4 L1060.1 825.4 L1062.6 825.4 L1065.2 825.4 L1067.8 825.4 L1070.4 825.4 L1073.0 825.4 L1075.6 825.4 L1078.1 825.4 L1080.7 825.4 L1083.3 825.4 L1085.9 825.4 L1088.5 825.4 L1091.1 825.4 L1093.6 825.4 L1096.2 825.4 L1098.8 825.4 L1101.4 825.4 L1104.0 825.4 L1106.6 825.4 L1109.1 825.4 L1111.7 825.4 L1114.3 825.4 L1116.9 825.4 L1119.5 825.4 L1122.1 825.4 L1124.6 825.4"/>
<path class="cv" stroke="#231f20" d="M91.2 231.9 L93.7 236.9 L96.3 241.9 L98.9 246.9 L101.5 252.0 L104.1 257.0 L106.7 262.1 L109.2 267.2 L111.8 272.3 L114.4 277.4 L117.0 282.5 L119.6 287.6 L122.2 292.7 L124.7 297.8 L127.3 302.9 L129.9 308.0 L132.5 313.1 L135.1 318.2 L137.7 323.3 L140.3 328.4 L142.8 333.4 L145.4 338.5 L148.0 343.6 L150.6 348.6 L153.2 353.6 L155.8 358.6 L158.3 363.6 L160.9 368.6 L163.5 373.6 L166.1 378.5 L168.7 383.5 L171.3 388.4 L173.8 393.3 L176.4 398.1 L179.0 403.0 L181.6 407.8 L184.2 412.6 L186.8 417.4 L189.3 422.1 L191.9 426.8 L194.5 431.5 L197.1 436.2 L199.7 440.8 L202.3 445.5 L204.8 450.0 L207.4 454.6 L210.0 459.1 L212.6 463.6 L215.2 468.1 L217.8 472.5 L220.3 476.9 L222.9 481.2 L225.5 485.6 L228.1 489.9 L230.7 494.1 L233.3 498.4 L235.8 502.6 L238.4 506.7 L241.0 510.8 L243.6 514.9 L246.2 519.0 L248.8 523.0 L251.4 527.0 L253.9 531.0 L256.5 534.9 L259.1 538.7 L261.7 542.6 L264.3 546.4 L266.9 550.2 L269.4 553.9 L272.0 557.6 L274.6 561.3 L277.2 564.9 L279.8 568.5 L282.4 572.0 L284.9 575.5 L287.5 579.0 L290.1 582.5 L292.7 585.9 L295.3 589.2 L297.9 592.6 L300.4 595.9 L303.0 599.1 L305.6 602.3 L308.2 605.5 L310.8 608.7 L313.4 611.8 L315.9 614.9 L318.5 617.9 L321.1 620.9 L323.7 623.9 L326.3 626.9 L328.9 629.8 L331.4 632.7 L334.0 635.5 L336.6 638.3 L339.2 641.1 L341.8 643.8 L344.4 646.5 L346.9 649.2 L349.5 651.8 L352.1 654.4 L354.7 657.0 L357.3 659.5 L359.9 662.0 L362.4 664.5 L365.0 667.0 L367.6 669.4 L370.2 671.7 L372.8 674.1 L375.4 676.4 L378.0 678.7 L380.5 681.0 L383.1 683.2 L385.7 685.4 L388.3 687.6 L390.9 689.7 L393.5 691.8 L396.0 693.9 L398.6 696.0 L401.2 698.0 L403.8 700.0 L406.4 702.0 L409.0 703.9 L411.5 705.8 L414.1 707.7 L416.7 709.6 L419.3 711.4 L421.9 713.2 L424.5 715.0 L427.0 716.8 L429.6 718.5 L432.2 720.2 L434.8 721.9 L437.4 723.6 L440.0 725.2 L442.5 726.8 L445.1 728.4 L447.7 730.0 L450.3 731.5 L452.9 733.1 L455.5 734.6 L458.0 736.0 L460.6 737.5 L463.2 738.9 L465.8 740.4 L468.4 741.8 L471.0 743.1 L473.5 744.5 L476.1 745.8 L478.7 747.1 L481.3 748.4 L483.9 749.7 L486.5 750.9 L489.1 752.2 L491.6 753.4 L494.2 754.6 L496.8 755.8 L499.4 756.9 L502.0 758.1 L504.6 759.2 L507.1 760.3 L509.7 761.4 L512.3 762.5 L514.9 763.6 L517.5 764.6 L520.1 765.6 L522.6 766.6 L525.2 767.6 L527.8 768.6 L530.4 769.6 L533.0 770.5 L535.6 771.5 L538.1 772.4 L540.7 773.3 L543.3 774.2 L545.9 775.0 L548.5 775.9 L551.1 776.8 L553.6 777.6 L556.2 778.4 L558.8 779.2 L561.4 780.0 L564.0 780.8 L566.6 781.6 L569.1 782.3 L571.7 783.1 L574.3 783.8 L576.9 784.5 L579.5 785.3 L582.1 786.0 L584.6 786.6 L587.2 787.3 L589.8 788.0 L592.4 788.6 L595.0 789.3 L597.6 789.9 L600.2 790.5 L602.7 791.2 L605.3 791.8 L607.9 792.4 L610.5 792.9 L613.1 793.5 L615.7 794.1 L618.2 794.6 L620.8 795.2 L623.4 795.7 L626.0 796.3 L628.6 796.8 L631.2 797.3 L633.7 797.8 L636.3 798.3 L638.9 798.8 L641.5 799.2 L644.1 799.7 L646.7 800.2 L649.2 800.6 L651.8 801.1 L654.4 801.5 L657.0 802.0 L659.6 802.4 L662.2 802.8 L664.7 803.2 L667.3 803.6 L669.9 804.0 L672.5 804.4 L675.1 804.8 L677.7 805.2 L680.2 805.5 L682.8 805.9 L685.4 806.3 L688.0 806.6 L690.6 807.0 L693.2 807.3 L695.7 807.6 L698.3 808.0 L700.9 808.3 L703.5 808.6 L706.1 808.9 L708.7 809.2 L711.2 809.5 L713.8 809.8 L716.4 810.1 L719.0 810.4 L721.6 810.7 L724.2 811.0 L726.8 811.2 L729.3 811.5 L731.9 811.8 L734.5 812.0 L737.1 812.3 L739.7 812.5 L742.3 812.8 L744.8 813.0 L747.4 813.2 L750.0 813.5 L752.6 813.7 L755.2 813.9 L757.8 814.1 L760.3 814.3 L762.9 814.6 L765.5 814.8 L768.1 815.0 L770.7 815.2 L773.3 815.4 L775.8 815.6 L778.4 815.7 L781.0 815.9 L783.6 816.1 L786.2 816.3 L788.8 816.5 L791.3 816.6 L793.9 816.8 L796.5 817.0 L799.1 817.1 L801.7 817.3 L804.3 817.5 L806.8 817.6 L809.4 817.8 L812.0 817.9 L814.6 818.1 L817.2 818.2 L819.8 818.3 L822.3 818.5 L824.9 818.6 L827.5 818.7 L830.1 818.9 L832.7 819.0 L835.3 819.1 L837.9 819.2 L840.4 819.4 L843.0 819.5 L845.6 819.6 L848.2 819.7 L850.8 819.8 L853.4 819.9 L855.9 820.0 L858.5 820.1 L861.1 820.2 L863.7 820.3 L866.3 820.4 L868.9 820.5 L871.4 820.6 L874.0 820.7 L876.6 820.8 L879.2 820.9 L881.8 821.0 L884.4 821.0 L886.9 821.1 L889.5 821.2 L892.1 821.3 L894.7 821.3 L897.3 821.4 L899.9 821.5 L902.4 821.6 L905.0 821.6 L907.6 821.7 L910.2 821.8 L912.8 821.8 L915.4 821.9 L917.9 821.9 L920.5 822.0 L923.1 822.1 L925.7 822.1 L928.3 822.2 L930.9 822.2 L933.4 822.3 L936.0 822.3 L938.6 822.4 L941.2 822.4 L943.8 822.5 L946.4 822.5 L949.0 822.5 L951.5 822.6 L954.1 822.6 L956.7 822.7 L959.3 822.7 L961.9 822.7 L964.5 822.8 L967.0 822.8 L969.6 822.8 L972.2 822.9 L974.8 822.9 L977.4 822.9 L980.0 822.9 L982.5 823.0 L985.1 823.0 L987.7 823.0 L990.3 823.0 L992.9 823.1 L995.5 823.1 L998.0 823.1 L1000.6 823.1 L1003.2 823.1 L1005.8 823.2 L1008.4 823.2 L1011.0 823.2 L1013.5 823.2 L1016.1 823.2 L1018.7 823.2 L1021.3 823.3 L1023.9 823.3 L1026.5 823.3 L1029.0 823.3 L1031.6 823.3 L1034.2 823.3 L1036.8 823.3 L1039.4 823.3 L1042.0 823.4 L1044.5 823.4 L1047.1 823.4 L1049.7 823.4 L1052.3 823.4 L1054.9 823.4 L1057.5 823.4 L1060.1 823.4 L1062.6 823.4 L1065.2 823.4 L1067.8 823.4 L1070.4 823.5 L1073.0 823.5 L1075.6 823.5 L1078.1 823.5 L1080.7 823.5 L1083.3 823.5 L1085.9 823.5 L1088.5 823.5 L1091.1 823.5 L1093.6 823.5 L1096.2 823.5 L1098.8 823.5 L1101.4 823.5 L1104.0 823.5 L1106.6 823.5 L1109.1 823.5 L1111.7 823.5 L1114.3 823.5 L1116.9 823.5 L1119.5 823.5 L1122.1 823.5 L1124.6 823.5"/>
<path d="M849.37 108.5 H896.16" stroke="#231f20" stroke-width="4.35" fill="none" stroke-dasharray="12.95 11.75"/>
<path d="M849.37 143.7 H896.16" stroke="#3953a4" stroke-width="4.35" fill="none"/>
<path d="M849.37 178.5 H896.16" stroke="#da291f" stroke-width="4.35" fill="none" stroke-dasharray="12.95 11.75"/>
<path d="M849.37 213.8 H896.16" stroke="#da291f" stroke-width="4.35" fill="none"/>
<path d="M849.37 249.0 H896.16" stroke="#3953a4" stroke-width="4.35" fill="none" stroke-dasharray="12.95 11.75"/>
<path d="M849.37 284.2 H896.16" stroke="#231f20" stroke-width="4.35" fill="none"/>
</g>
<text font-size="25.5" transform="translate(95.18 852.70) scale(1.0850 1)">0</text>
<text font-size="25.5" transform="translate(200.54 852.70) scale(1.0850 1)">0.5</text>
<text font-size="25.5" transform="translate(326.29 852.70) scale(1.0850 1)">1</text>
<text font-size="25.5" transform="translate(431.46 852.70) scale(1.0850 1)">1.5</text>
<text font-size="25.5" transform="translate(558.20 852.70) scale(1.0850 1)">2</text>
<text font-size="25.5" transform="translate(663.48 852.70) scale(1.0850 1)">2.5</text>
<text font-size="25.5" transform="translate(789.64 852.70) scale(1.0850 1)">3</text>
<text font-size="25.5" transform="translate(895.04 852.70) scale(1.0850 1)">3.5</text>
<text font-size="25.5" transform="translate(1021.25 852.70) scale(1.0850 1)">4</text>
<text font-size="25.5" transform="translate(1126.88 852.70) scale(1.0850 1)">4.5</text>
<text font-size="25.5" transform="translate(1252.64 852.70) scale(1.0850 1)">5</text>
<text font-size="25.5" transform="translate(77.92 828.70) scale(1.0850 1)">0</text>
<text font-size="25.5" transform="translate(57.30 712.68) scale(1.0850 1)">0.2</text>
<text font-size="25.5" transform="translate(56.63 596.66) scale(1.0850 1)">0.4</text>
<text font-size="25.5" transform="translate(56.93 480.64) scale(1.0850 1)">0.6</text>
<text font-size="25.5" transform="translate(57.03 364.62) scale(1.0850 1)">0.8</text>
<text font-size="25.5" transform="translate(78.30 248.60) scale(1.0850 1)">1</text>
<text font-size="25.5" transform="translate(57.30 132.58) scale(1.0850 1)">1.2</text>
<text font-size="25.5" transform="translate(56.63 16.56) scale(1.0850 1)">1.4</text>
<text class="it" font-size="28" transform="translate(672.10 892.30) scale(1.2227 1)">η</text>
<text font-size="28" transform="translate(20.7 444.7) rotate(-90) scale(1 1.12)"><tspan x="-0.21" textLength="9.63" lengthAdjust="spacingAndGlyphs">f</tspan> <tspan x="15.14" textLength="8.60" lengthAdjust="spacingAndGlyphs">'</tspan><tspan x="23.03" textLength="11.15" lengthAdjust="spacingAndGlyphs">(</tspan><tspan class="it" x="33.27" textLength="16.75" lengthAdjust="spacingAndGlyphs">η</tspan><tspan x="47.67" textLength="10.63" lengthAdjust="spacingAndGlyphs">)</tspan></text>
<text font-size="25.5" y="112.00"><tspan class="it" x="1018.26" textLength="15.12" lengthAdjust="spacingAndGlyphs">λ</tspan> <tspan x="1040.81" textLength="18.14" lengthAdjust="spacingAndGlyphs">=</tspan> <tspan x="1065.53" textLength="14.04" lengthAdjust="spacingAndGlyphs">0</tspan><tspan x="1079.46" textLength="8.43" lengthAdjust="spacingAndGlyphs">,</tspan> <tspan class="it" x="1095.22" textLength="17.95" lengthAdjust="spacingAndGlyphs">ϕ</tspan> <tspan x="1119.40" textLength="18.27" lengthAdjust="spacingAndGlyphs">=</tspan> <tspan x="1144.43" textLength="35.25" lengthAdjust="spacingAndGlyphs">0.0</tspan></text>
<text font-size="25.5" y="147.20"><tspan class="it" x="1018.26" textLength="15.12" lengthAdjust="spacingAndGlyphs">λ</tspan> <tspan x="1040.81" textLength="18.14" lengthAdjust="spacingAndGlyphs">=</tspan> <tspan x="1065.53" textLength="14.04" lengthAdjust="spacingAndGlyphs">0</tspan><tspan x="1079.46" textLength="8.43" lengthAdjust="spacingAndGlyphs">,</tspan> <tspan class="it" x="1095.22" textLength="17.95" lengthAdjust="spacingAndGlyphs">ϕ</tspan> <tspan x="1119.40" textLength="18.27" lengthAdjust="spacingAndGlyphs">=</tspan> <tspan x="1144.44" textLength="34.67" lengthAdjust="spacingAndGlyphs">0.4</tspan></text>
<text font-size="25.5" y="182.00"><tspan class="it" x="1018.26" textLength="15.12" lengthAdjust="spacingAndGlyphs">λ</tspan> <tspan x="1040.81" textLength="18.14" lengthAdjust="spacingAndGlyphs">=</tspan> <tspan x="1065.39" textLength="14.40" lengthAdjust="spacingAndGlyphs">1</tspan><tspan x="1079.46" textLength="8.43" lengthAdjust="spacingAndGlyphs">,</tspan> <tspan class="it" x="1095.22" textLength="17.95" lengthAdjust="spacingAndGlyphs">ϕ</tspan> <tspan x="1119.40" textLength="18.27" lengthAdjust="spacingAndGlyphs">=</tspan> <tspan x="1144.43" textLength="35.25" lengthAdjust="spacingAndGlyphs">0.0</tspan></text>
<text font-size="25.5" y="217.30"><tspan class="it" x="1018.26" textLength="15.12" lengthAdjust="spacingAndGlyphs">λ</tspan> <tspan x="1040.81" textLength="18.14" lengthAdjust="spacingAndGlyphs">=</tspan> <tspan x="1065.39" textLength="14.40" lengthAdjust="spacingAndGlyphs">1</tspan><tspan x="1079.46" textLength="8.43" lengthAdjust="spacingAndGlyphs">,</tspan> <tspan class="it" x="1095.22" textLength="17.95" lengthAdjust="spacingAndGlyphs">ϕ</tspan> <tspan x="1119.40" textLength="18.27" lengthAdjust="spacingAndGlyphs">=</tspan> <tspan x="1144.44" textLength="34.67" lengthAdjust="spacingAndGlyphs">0.4</tspan></text>
<text font-size="25.5" y="252.50"><tspan class="it" x="1018.26" textLength="15.12" lengthAdjust="spacingAndGlyphs">λ</tspan> <tspan x="1040.81" textLength="18.14" lengthAdjust="spacingAndGlyphs">=</tspan> <tspan x="1065.56" textLength="13.89" lengthAdjust="spacingAndGlyphs">3</tspan><tspan x="1079.46" textLength="8.43" lengthAdjust="spacingAndGlyphs">,</tspan> <tspan class="it" x="1095.22" textLength="17.95" lengthAdjust="spacingAndGlyphs">ϕ</tspan> <tspan x="1119.40" textLength="18.27" lengthAdjust="spacingAndGlyphs">=</tspan> <tspan x="1144.43" textLength="35.25" lengthAdjust="spacingAndGlyphs">0.0</tspan></text>
<text font-size="25.5" y="287.70"><tspan class="it" x="1018.26" textLength="15.12" lengthAdjust="spacingAndGlyphs">λ</tspan> <tspan x="1040.81" textLength="18.14" lengthAdjust="spacingAndGlyphs">=</tspan> <tspan x="1065.56" textLength="13.89" lengthAdjust="spacingAndGlyphs">3</tspan><tspan x="1079.46" textLength="8.43" lengthAdjust="spacingAndGlyphs">,</tspan> <tspan class="it" x="1095.22" textLength="17.95" lengthAdjust="spacingAndGlyphs">ϕ</tspan> <tspan x="1119.40" textLength="18.27" lengthAdjust="spacingAndGlyphs">=</tspan> <tspan x="1144.44" textLength="34.67" lengthAdjust="spacingAndGlyphs">0.4</tspan></text>
</svg>
</body></html>
